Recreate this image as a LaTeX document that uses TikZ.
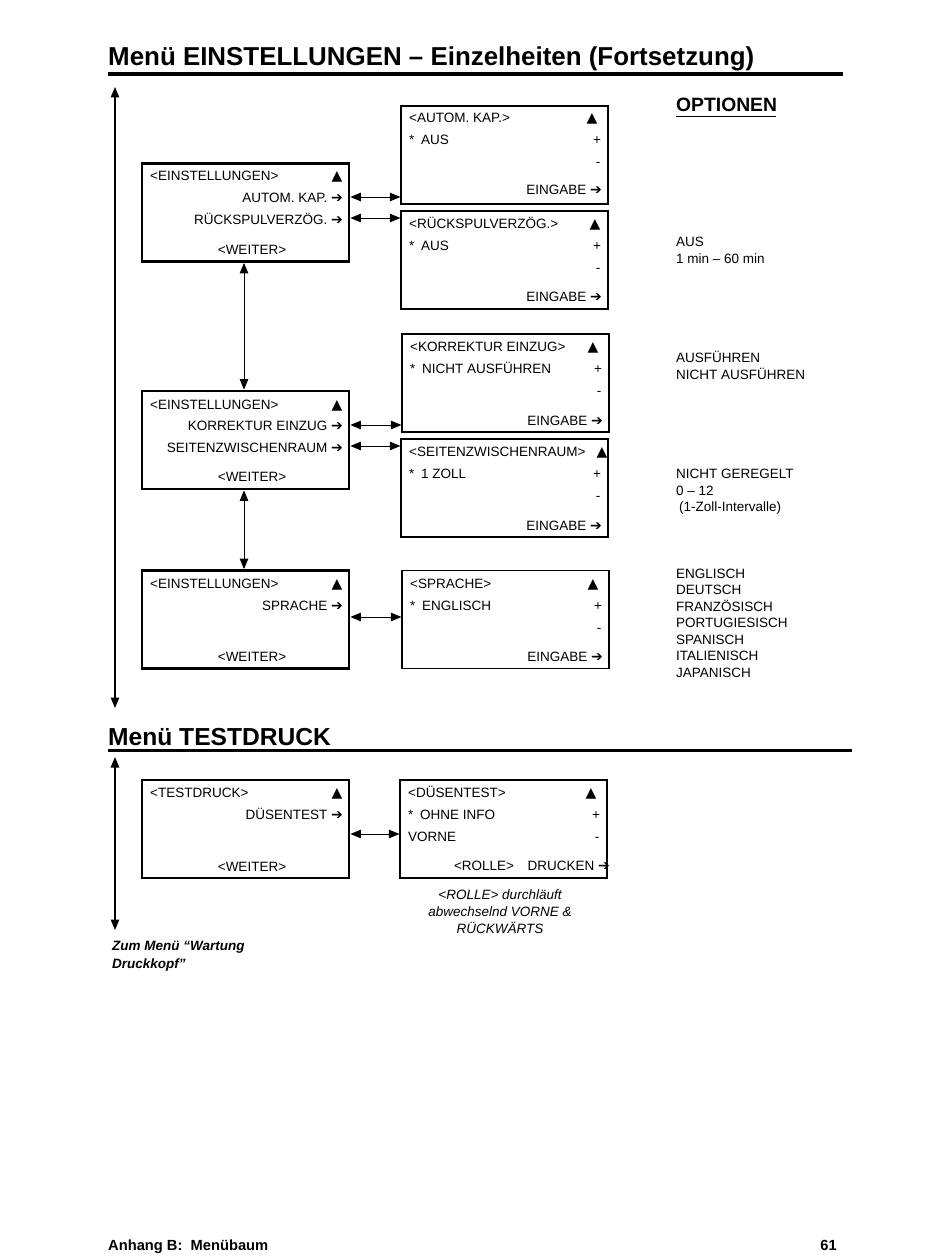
\documentclass[tikz,border=0pt]{standalone}
\usepackage{fontspec}
\setmainfont{Liberation Sans}
\newfontfamily\dejavu{DejaVu Sans}
\newfontfamily\dejavub{DejaVu Sans Bold}
\usetikzlibrary{arrows.meta}
\newcommand\rarr{{\dejavub\fontsize{14}{14}\selectfont\char"2794}}
\newcommand\tri{{\dejavu\fontsize{14}{14}\selectfont\char"25B2}}
\begin{document}
\begin{tikzpicture}[x=1pt,y=-1pt,
  mbox/.style={draw,line width=2.8pt,minimum width=207pt,minimum height=98pt,inner sep=0pt},
  obox/.style={draw,line width=1.2pt,minimum width=207pt,minimum height=98pt,inner sep=0pt},
  tl/.style={inner sep=0pt,anchor=base west,font=\fontsize{13.5}{16}\selectfont},
  tr/.style={inner sep=0pt,anchor=base east,font=\fontsize{13.5}{16}\selectfont},
  tc/.style={inner sep=0pt,anchor=base,font=\fontsize{13.5}{16}\selectfont},
  dbl/.style={{Triangle[length=10.5pt,width=8.5pt]}-{Triangle[length=10.5pt,width=8.5pt]},line width=0.9pt},
  ldbl/.style={{Triangle[length=10.5pt,width=8.5pt]}-{Triangle[length=10.5pt,width=8.5pt]},line width=1.2pt}]
\useasboundingbox (0,0) rectangle (950,1260);
\fill[white] (0,0) rectangle (950,1260);
% Titles
\node[inner sep=0pt,anchor=base west,font=\bfseries\fontsize{25.9}{30}\selectfont] (title1) at (108,66) {Menü EINSTELLUNGEN – Einzelheiten (Fortsetzung)};
\coordinate (r1a) at (108,74.5); \coordinate (r1b) at (843,74.5);
\draw[line width=4pt] (r1a) -- (r1b);
\node[inner sep=0pt,anchor=base west,font=\bfseries\fontsize{19.3}{22}\selectfont] (opt) at (676,112) {OPTIONEN};
\coordinate (u1a) at (676,116.5); \coordinate (u1b) at (776,116.5);
\draw[line width=1.8pt] (u1a) -- (u1b);
% long left arrow
\coordinate (la) at (115,87); \coordinate (lb) at (115,708);
\draw[ldbl] (la) -- (lb);
% Menu boxes
\node[mbox] (m1) at (245.5,212.5) {};
\node[mbox] (m2) at (245.5,440) {};
\node[mbox] (m3) at (245.5,619.5) {};
% option boxes
\node[obox] (o1) at (504.5,155) {};
\node[obox] (o2) at (504.5,260) {};
\node[obox] (o3) at (505.5,383) {};
\node[obox] (o4) at (504.5,488) {};
\node[obox] (o5) at (505.5,619.5) {};
% m1 text
\node[tl] (m1t) at (150,181) {<EINSTELLUNGEN>};
\node[tc] (m1u) at (337,181) {\tri};
\node[tr] (m1a) at (343,202) {AUTOM. KAP. \rarr};
\node[tr] (m1b) at (343,224) {RÜCKSPULVERZÖG. \rarr};
\node[tc] (m1w) at (252,254) {<WEITER>};
% o1 text
\node[tl] (o1t) at (409,123) {<AUTOM. KAP.>};
\node[tc] (o1u) at (592,123) {\tri};
\node[tl] (o1v) at (409,145) {*\enspace AUS};
\node[tc] (o1p) at (597,145) {+};
\node[tc] (o1m) at (598,167) {-};
\node[tr] (o1e) at (602,195) {EINGABE \rarr};
% o2 text
\node[tl] (o2t) at (409,228) {<RÜCKSPULVERZÖG.>};
\node[tc] (o2u) at (595,228) {\tri};
\node[tl] (o2v) at (409,250) {*\enspace AUS};
\node[tc] (o2p) at (597,250) {+};
\node[tc] (o2m) at (598,272) {-};
\node[tr] (o2e) at (602,301) {EINGABE \rarr};
% m2 text
\node[tl] (m2t) at (150,409) {<EINSTELLUNGEN>};
\node[tc] (m2u) at (337,409) {\tri};
\node[tr] (m2a) at (343,430) {KORREKTUR EINZUG \rarr};
\node[tr] (m2b) at (343,452) {SEITENZWISCHENRAUM \rarr};
\node[tc] (m2w) at (252,481) {<WEITER>};
% o3 text
\node[tl] (o3t) at (410,351) {<KORREKTUR EINZUG>};
\node[tc] (o3u) at (593,351) {\tri};
\node[tl] (o3v) at (410,373) {*\enspace NICHT AUSFÜHREN};
\node[tc] (o3p) at (598,373) {+};
\node[tc] (o3m) at (599,395) {-};
\node[tr] (o3e) at (603,425) {EINGABE \rarr};
% o4 text
\node[tl] (o4t) at (409,456) {<SEITENZWISCHENRAUM>};
\node[tc] (o4u) at (602,456) {\tri};
\node[tl] (o4v) at (409,478) {*\enspace 1 ZOLL};
\node[tc] (o4p) at (597,478) {+};
\node[tc] (o4m) at (598,500) {-};
\node[tr] (o4e) at (602,530) {EINGABE \rarr};
% m3 text
\node[tl] (m3t) at (150,588) {<EINSTELLUNGEN>};
\node[tc] (m3u) at (337,588) {\tri};
\node[tr] (m3a) at (343,610) {SPRACHE \rarr};
\node[tc] (m3w) at (252,661) {<WEITER>};
% o5 text
\node[tl] (o5t) at (410,588) {<SPRACHE>};
\node[tc] (o5u) at (593,588) {\tri};
\node[tl] (o5v) at (410,610) {*\enspace ENGLISCH};
\node[tc] (o5p) at (598,610) {+};
\node[tc] (o5m) at (599,632) {-};
\node[tr] (o5e) at (603,661) {EINGABE \rarr};
% horizontal arrows
\coordinate (y1) at (0,197); \coordinate (y2) at (0,218);
\coordinate (y3) at (0,425); \coordinate (y4) at (0,446);
\coordinate (y5) at (0,617);
\draw[dbl] (m1.east |- y1) -- (o1.west |- y1);
\draw[dbl] (m1.east |- y2) -- (o2.west |- y2);
\draw[dbl] (m2.east |- y3) -- (o3.west |- y3);
\draw[dbl] (m2.east |- y4) -- (o4.west |- y4);
\draw[dbl] (m3.east |- y5) -- (o5.west |- y5);
% vertical arrows
\coordinate (vx) at (244,0);
\draw[dbl] (m1.south -| vx) -- (m2.north -| vx);
\draw[dbl] (m2.south -| vx) -- (m3.north -| vx);
% option list
\node[tl] (q1) at (676,246) {AUS};
\node[tl] (q2) at (676,263) {1 min – 60 min};
\node[tl] (q3) at (676,362) {AUSFÜHREN};
\node[tl] (q4) at (676,379) {NICHT AUSFÜHREN};
\node[tl] (q5) at (676,478) {NICHT GEREGELT};
\node[tl] (q6) at (676,495) {0 – 12};
\node[tl] (q7) at (679,511) {(1-Zoll-Intervalle)};
\node[tl] (q8) at (676,578) {ENGLISCH};
\node[tl] (q9) at (676,594.5) {DEUTSCH};
\node[tl] (q10) at (676,611) {FRANZÖSISCH};
\node[tl] (q11) at (676,627.5) {PORTUGIESISCH};
\node[tl] (q12) at (676,644) {SPANISCH};
\node[tl] (q13) at (676,660.5) {ITALIENISCH};
\node[tl] (q14) at (676,677) {JAPANISCH};
% Testdruck section
\node[inner sep=0pt,anchor=base west,font=\bfseries\fontsize{24.6}{30}\selectfont] (title2) at (108,745) {Menü TESTDRUCK};
\coordinate (r2a) at (108,750); \coordinate (r2b) at (852,750);
\draw[line width=3pt] (r2a) -- (r2b);
\coordinate (lc) at (115,757); \coordinate (ld) at (115,930);
\draw[ldbl] (lc) -- (ld);
\node[mbox] (m4) at (245.5,829) {};
\node[obox] (o6) at (503.5,829) {};
\node[tl] (m4t) at (150,797) {<TESTDRUCK>};
\node[tc] (m4u) at (337,797) {\tri};
\node[tr] (m4a) at (343,819) {DÜSENTEST \rarr};
\node[tc] (m4w) at (252,871) {<WEITER>};
\node[tl] (o6t) at (408,797) {<DÜSENTEST>};
\node[tc] (o6u) at (591,797) {\tri};
\node[tl] (o6v) at (408,819) {*\enspace OHNE INFO};
\node[tc] (o6p) at (596,819) {+};
\node[tl] (o6w) at (408,841) {VORNE};
\node[tc] (o6m) at (597,841) {-};
\node[tr] (o6e) at (610,870) {<ROLLE>\enspace\enspace DRUCKEN \rarr};
\coordinate (y6) at (0,834);
\draw[dbl] (m4.east |- y6) -- (o6.west |- y6);
\node[inner sep=0pt,anchor=north,align=center,font=\itshape\fontsize{13.5}{16.6}\selectfont] (cap) at (500,890) {<ROLLE> durchläuft\\abwechselnd VORNE \&\\RÜCKWÄRTS};
\node[inner sep=0pt,anchor=north west,align=left,font=\bfseries\itshape\fontsize{13.5}{18}\selectfont] (zum) at (112,941) {Zum Menü “Wartung\\Druckkopf”};
% footer
\node[inner sep=0pt,anchor=base west,font=\bfseries\fontsize{14.7}{17}\selectfont] (foot) at (108,1250) {Anhang B:\ \ Menübaum};
\node[inner sep=0pt,anchor=base east,font=\bfseries\fontsize{14.7}{17}\selectfont] (page) at (837,1250) {61};
\end{tikzpicture}
\end{document}
